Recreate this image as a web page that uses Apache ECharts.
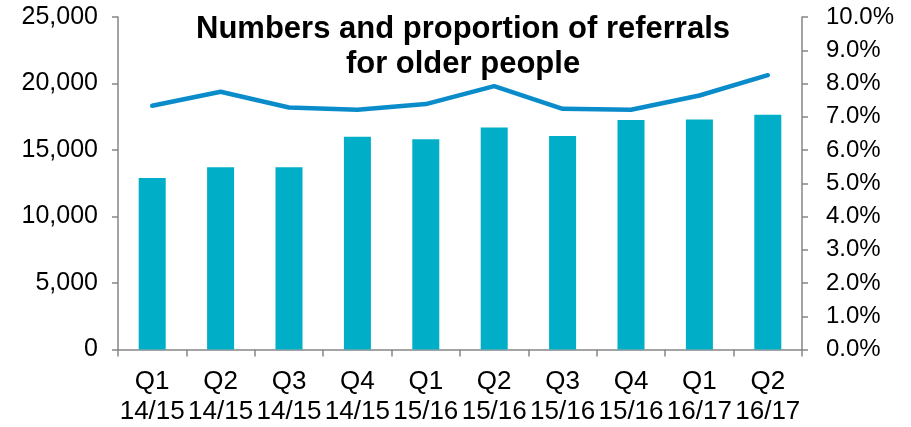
<!DOCTYPE html>
<html>
<head>
<meta charset="utf-8">
<script src="https://cdn.jsdelivr.net/npm/echarts@6/dist/echarts.min.js"></script>
<style>
  html, body { margin: 0; padding: 0; background: #fff; }
  #chart { width: 911px; height: 427px; }
</style>
</head>
<body>
<div id="chart"></div>
<script>
const categories = ['Q1\n14/15','Q2\n14/15','Q3\n14/15','Q4\n14/15','Q1\n15/16','Q2\n15/16','Q3\n15/16','Q4\n15/16','Q1\n16/17','Q2\n16/17'];
const referrals = [12900, 13700, 13700, 16000, 15800, 16700, 16050, 17250, 17300, 17650];
const proportion = [7.33, 7.75, 7.28, 7.21, 7.38, 7.92, 7.24, 7.21, 7.64, 8.25];
const titleText = 'Numbers and proportion of referrals\nfor older people';

const axisColor = '#868686';
const font = 'Liberation Sans, Arial, sans-serif';

const chart = echarts.init(document.getElementById('chart'), null, { renderer: 'canvas' });
chart.setOption({
  animation: false,
  backgroundColor: '#fff',
  title: {
    text: titleText,
    left: 458,
    top: 7,
    textAlign: 'center',
    textStyle: { fontFamily: font, fontSize: 31, fontWeight: 'bold', color: '#000', lineHeight: 35 }
  },
  grid: { left: 118, right: 109, top: 17, bottom: 77.5, containLabel: false },
  xAxis: {
    type: 'category',
    data: categories,
    axisLine: { show: true, lineStyle: { color: axisColor, width: 1.5 } },
    axisTick: { show: true, length: 7, lineStyle: { color: axisColor, width: 1.5 } },
    axisLabel: { fontFamily: font, fontSize: 26, color: '#000', margin: 17, lineHeight: 30, interval: 0 }
  },
  yAxis: [
    {
      type: 'value', min: 0, max: 25000, interval: 5000,
      axisLine: { show: true, lineStyle: { color: axisColor, width: 1.5 } },
      axisTick: { show: true, length: 6, lineStyle: { color: axisColor, width: 1.5 } },
      splitLine: { show: false },
      axisLabel: {
        fontFamily: font, fontSize: 25, color: '#000', margin: 20,
        formatter: v => v.toLocaleString('en-US')
      }
    },
    {
      type: 'value', min: 0, max: 10, interval: 1, position: 'right',
      axisLine: { show: true, lineStyle: { color: axisColor, width: 1.5 } },
      axisTick: { show: true, length: 6, lineStyle: { color: axisColor, width: 1.5 } },
      splitLine: { show: false },
      axisLabel: {
        fontFamily: font, fontSize: 24, color: '#000', margin: 24,
        formatter: v => v.toFixed(1) + '%'
      }
    }
  ],
  series: [
    {
      name: 'Number of referrals',
      type: 'bar',
      data: referrals,
      barWidth: 27,
      itemStyle: { color: '#00AEC7' },
      yAxisIndex: 0
    },
    {
      name: 'Proportion of referrals',
      type: 'line',
      data: proportion,
      yAxisIndex: 1,
      symbol: 'none',
      lineStyle: { color: '#0A8CCB', width: 4.5, cap: 'round', join: 'round' }
    }
  ]
});
</script>
</body>
</html>
